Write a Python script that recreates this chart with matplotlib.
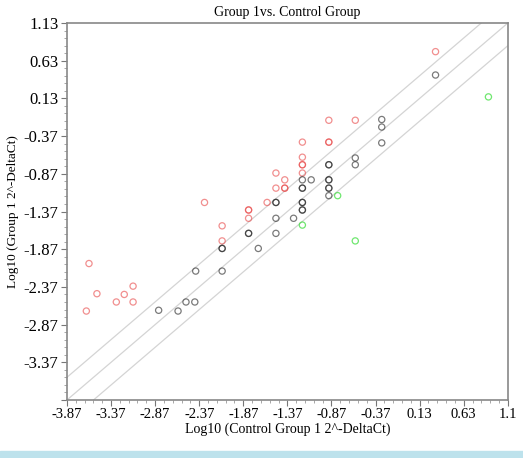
import numpy as np
import matplotlib.pyplot as plt
from matplotlib.ticker import FixedLocator

plt.rcParams['font.family'] = ['Liberation Serif', 'DejaVu Serif']

# log10 values; duplicates overlap (darker rings)
red_x = [-3.62, -3.53, -3.65, -3.31, -3.22, -3.12, -3.12,
         -2.31, -2.11, -2.11, -1.81, -1.81, -1.81, -1.60, -1.50, -1.50,
         -1.40, -1.40, -1.40, -1.20, -1.20, -1.20, -1.20, -1.20,
         -0.90, -0.60, -0.90, -0.90, 0.31]
red_y = [-2.06, -2.46, -2.69, -2.57, -2.47, -2.36, -2.57,
         -1.25, -1.56, -1.76, -1.35, -1.35, -1.46, -1.25, -0.86, -1.06,
         -0.95, -1.06, -1.06, -0.45, -0.65, -0.75, -0.75, -0.86,
         -0.16, -0.16, -0.45, -0.45, 0.75]

black_x = [-2.83, -2.61, -2.52, -2.42, -2.41, -2.11, -2.11, -2.11,
           -1.81, -1.81, -1.70, -1.50, -1.50, -1.50, -1.50, -1.30,
           -1.20, -1.10, -1.20, -1.20, -1.20, -1.20, -1.20, -1.20,
           -0.90, -0.90, -0.90, -0.90, -0.90, -0.90, -0.90,
           -0.60, -0.60, -0.30, -0.30, -0.30, 0.31]
black_y = [-2.68, -2.69, -2.57, -2.57, -2.16, -2.16, -1.86, -1.86,
           -1.66, -1.66, -1.86, -1.25, -1.25, -1.46, -1.66, -1.46,
           -0.95, -0.95, -1.06, -1.06, -1.25, -1.25, -1.35, -1.35,
           -0.75, -0.75, -0.95, -0.95, -1.06, -1.06, -1.16,
           -0.66, -0.75, -0.15, -0.25, -0.46, 0.44]

green_x = [-0.80, -1.20, -0.60, 0.91]
green_y = [-1.16, -1.55, -1.76, 0.15]

ticks = [-3.87, -3.37, -2.87, -2.37, -1.87, -1.37, -0.87, -0.37, 0.13, 0.63, 1.13]
xtick_labels = ['-3.87', '-3.37', '-2.87', '-2.37', '-1.87', '-1.37', '-0.87',
                '-0.37', '0.13', '0.63', '1.1']
ytick_labels = ['', '-3.37', '-2.87', '-2.37', '-1.87', '-1.37', '-0.87',
                '-0.37', '0.13', '0.63', '1.13']
fold = np.log10(2)

fig = plt.figure(figsize=(5.23, 4.58), dpi=100)
ax = fig.add_axes([0.128, 0.1266, 0.843, 0.8232])

lo, hi = -3.87, 1.13
line_x = np.array([lo - 1, hi + 1])
for off in (fold, 0, -fold):
    ax.plot(line_x, line_x + off, color='#d4d4d4', lw=0.9, zorder=1)

ms = 20
ax.scatter(red_x, red_y, s=ms, facecolors='none', edgecolors='#e84545',
           linewidths=0.9, alpha=0.6, zorder=3)
ax.scatter(black_x, black_y, s=ms, facecolors='none', edgecolors='#222222',
           linewidths=0.9, alpha=0.6, zorder=3)
ax.scatter(green_x, green_y, s=ms, facecolors='none', edgecolors='#33dd33',
           linewidths=0.9, alpha=0.7, zorder=3)

ax.set_xlim(lo, hi)
ax.set_ylim(lo, hi)
ax.xaxis.set_major_locator(FixedLocator(ticks))
ax.yaxis.set_major_locator(FixedLocator(ticks))
ax.set_xticklabels(xtick_labels)
ax.set_yticklabels(ytick_labels)
ax.xaxis.set_minor_locator(FixedLocator(np.arange(lo, hi + 0.01, 0.1)))
ax.yaxis.set_minor_locator(FixedLocator(np.arange(lo, hi + 0.01, 0.1)))
ax.tick_params(which='major', length=4, width=0.8, color='#777777',
               labelsize=10.5, pad=2)
ax.tick_params(which='minor', length=2, width=0.6, color='#999999')
ax.tick_params(axis='y', labelsize=12)
for s in ax.spines.values():
    s.set_color('#888888')
    s.set_linewidth(1.2)

ax.set_title('Group 1vs. Control Group', fontsize=10, pad=5)
ax.set_xlabel('Log10 (Control Group 1 2^-DeltaCt)', fontsize=10, labelpad=1)
ax.set_ylabel('Log10 (Group 1 2^-DeltaCt)', fontsize=9.5, labelpad=3)

# cropped caption band at the bottom edge
fig.patches.append(plt.Rectangle((0, 0), 1, 7 / 458, transform=fig.transFigure,
                                 color='#bde2ec', zorder=0))

fig.savefig('out.png', dpi=100)
